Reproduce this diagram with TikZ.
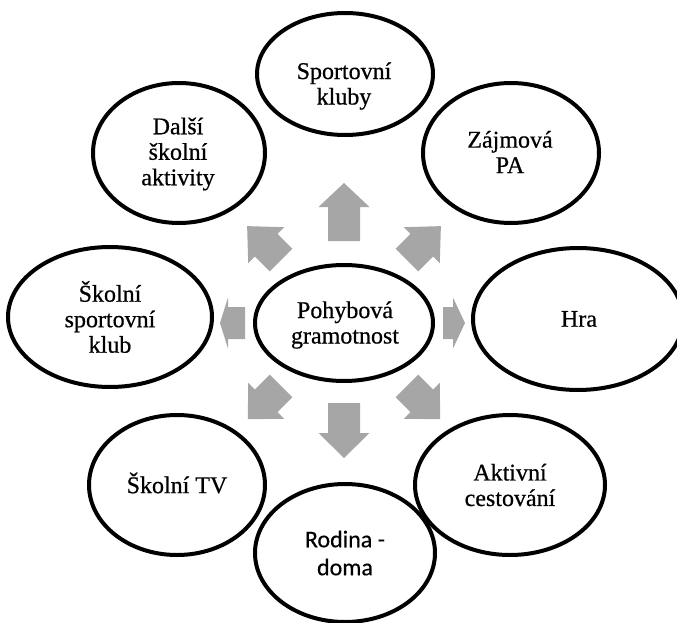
\documentclass[tikz,border=0pt]{standalone}
\usepackage{fontspec}
\setmainfont[FakeBold=0.6]{Liberation Serif}
\newfontfamily\calfont[FakeBold=0.4]{Carlito}
\usetikzlibrary{shapes.geometric}
\definecolor{arrowgray}{RGB}{166,166,166}
\newcommand{\garrow}[4]{%
  \fill[arrowgray, shift={(c)}, rotate=#1]
    (#2pt,-16pt) -- (#3pt,-16pt) -- (#3pt,-25.5pt) -- (#4pt,0pt)
    -- (#3pt,25.5pt) -- (#3pt,16pt) -- (#2pt,16pt) -- cycle;}
\begin{document}
\begin{tikzpicture}[x=1pt,y=-1pt,
  bub/.style={ellipse, draw=black, line width=4pt, inner sep=0pt},
  lbl/.style={align=center, font=\fontsize{24}{25.5}\selectfont, text=black, inner sep=0pt},
  lblsans/.style={align=center, font=\calfont\fontsize{24}{28}\selectfont, text=black, inner sep=0pt}]
\useasboundingbox (0,0) rectangle (677,623);
\coordinate (c) at (344,323);
% arrows
\garrow{90}{82}{116}{140}
\garrow{270}{80}{110}{135}
\garrow{180}{99}{116}{124}
\garrow{0}{99}{109}{121}
\garrow{45}{89}{110}{137}
\garrow{135}{89}{110}{137}
\garrow{225}{89}{110}{136}
\garrow{315}{89}{110}{136}
% ellipses
\node[bub, minimum width=176pt, minimum height=122pt] (sk)  at (345,74)  {};
\node[bub, minimum width=176pt, minimum height=140pt] (zp)  at (511,153) {};
\node[bub, minimum width=210pt, minimum height=142pt] (hra) at (578,319) {};
\node[bub, minimum width=172pt, minimum height=140pt] (dsa) at (179,153) {};
\node[bub, minimum width=204pt, minimum height=140pt] (ssk) at (110,317) {};
\node[bub, minimum width=176pt, minimum height=140pt] (stv) at (177,485) {};
\node[bub, minimum width=190pt, minimum height=140pt] (ac)  at (510,485) {};
\node[bub, minimum width=180pt, minimum height=138pt] (rd)  at (345,553) {};
\node[bub, minimum width=178pt, minimum height=116pt] (pg)  at (344,323) {};
% texts
\node[lbl] (skt)  at (344,86)  {Sportovní\\kluby};
\node[lbl] (zpt)  at (510,152) {Zájmová\\PA};
\node[lbl] (hrat) at (579,319) {Hra};
\node[lbl] (dsat) at (178,154) {Další\\školní\\aktivity};
\node[lbl] (sskt) at (110,317) {Školní\\sportovní\\klub};
\node[lbl] (stvt) at (177,483) {Školní TV};
\node[lbl] (act)  at (510,485) {Aktivní\\cestování};
\node[lblsans] (rdt) at (345,553) {Rodina -\\doma};
\node[lbl] (pgt)  at (345,325) {Pohybová\\gramotnost};
\end{tikzpicture}
\end{document}
